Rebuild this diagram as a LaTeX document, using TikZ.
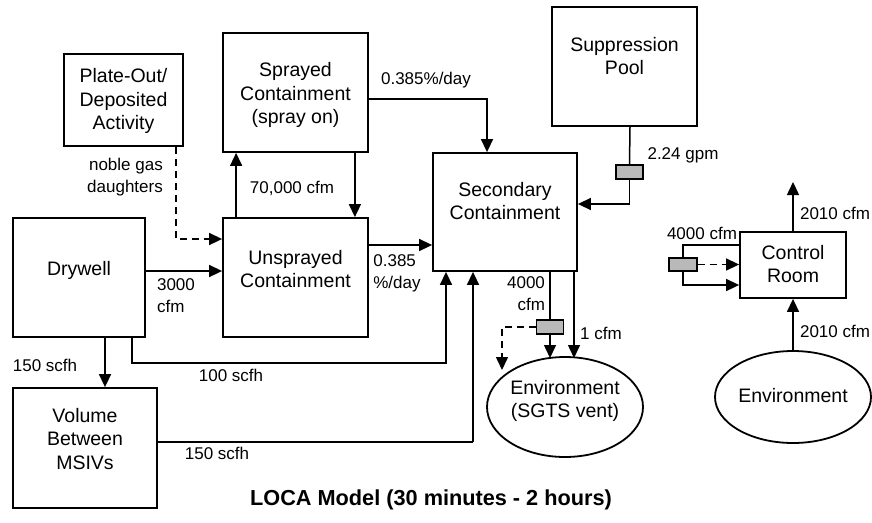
\documentclass[tikz,border=0pt]{standalone}
\usepackage{fontspec}
\setmainfont{Liberation Sans}
\usetikzlibrary{arrows.meta,shapes.geometric}
\begin{document}
\begin{tikzpicture}[x=1pt,y=-1pt,
  box/.style={draw,line width=1.8pt,inner sep=0pt},
  oval/.style={draw,ellipse,line width=1.8pt,inner sep=0pt},
  txt/.style={font=\fontsize{19.5}{23.5}\selectfont,align=center,inner sep=0pt},
  lab/.style={font=\fontsize{17}{22}\selectfont,inner sep=0pt},
  flow/.style={line width=1.5pt,-{Triangle[length=13pt,width=12pt]}},
  plain/.style={line width=1.5pt},
  dsh/.style={dash pattern=on 7pt off 5pt},
  valve/.style={draw,line width=1.4pt,fill=gray!55,minimum width=27pt,minimum height=14pt,inner sep=0pt}]
\useasboundingbox (0,0) rectangle (872,522);
% boxes
\node[box,minimum width=119pt,minimum height=92pt] (plate) at (123.5,100) {};
\node[txt] (plate-t) at (123.5,101) {Plate-Out/\\Deposited\\Activity};
\node[box,minimum width=145pt,minimum height=119pt] (spr) at (295.5,92.5) {};
\node[txt] (spr-t) at (295.5,95) {Sprayed\\Containment\\(spray on)};
\node[box,minimum width=145pt,minimum height=119pt] (unspr) at (295.5,277.5) {};
\node[txt] (unspr-t) at (295.5,269) {Unsprayed\\Containment};
\node[box,minimum width=132pt,minimum height=119pt] (dry) at (79,277.5) {};
\node[txt] (dry-t) at (79,270) {Drywell};
\node[box,minimum width=144pt,minimum height=118pt] (sec) at (505,212) {};
\node[txt] (sec-t) at (505,201) {Secondary\\Containment};
\node[box,minimum width=145pt,minimum height=119pt] (pool) at (624.5,66.5) {};
\node[txt] (pool-t) at (624.5,56) {Suppression\\Pool};
\node[box,minimum width=144pt,minimum height=120pt] (vol) at (85,448) {};
\node[txt] (vol-t) at (85,439) {Volume\\Between\\MSIVs};
\node[box,minimum width=106pt,minimum height=66pt] (ctrl) at (793,265) {};
\node[txt] (ctrl-t) at (793,264) {Control\\Room};
\node[oval,minimum width=156pt,minimum height=100pt] (sgts) at (565,407) {};
\node[txt] (sgts-t) at (565,401) {Environment\\(SGTS vent)};
\node[oval,minimum width=156pt,minimum height=92pt] (env) at (793,397) {};
\node[txt] (env-t) at (793,396) {Environment};
% valves
\node[valve] (v1) at (629.5,172) {};
\node[valve] (v2) at (550,327) {};
\node[valve,minimum width=28pt,minimum height=13pt] (v3) at (683,264.5) {};
% coordinates
\coordinate (c100) at (446,363);
\coordinate (c150) at (473,442);
\coordinate (dend) at (502,370);
\coordinate (e1) at (574,358);
\coordinate (e2) at (550,358);
\coordinate (up) at (793,182);
\coordinate (u245) at (368,245);
% connectors
\draw[flow,dsh] ([xshift=-8pt]plate.south east) |- ([yshift=38.5pt]unspr.west);
\node[lab,align=right] (noble) at (125,177.5) {noble gas\\daughters};
\draw[flow] ([xshift=14pt]unspr.north west) -- ([xshift=14pt]spr.south west);
\draw[flow] ([xshift=-14pt]spr.south east) -- ([xshift=-14pt]unspr.north east);
\node[lab] (l70) at (292,188) {70,000 cfm};
\draw[flow] ([yshift=-6.5pt]spr.east) -| ([xshift=-18pt]sec.north);
\node[lab] (l385a) at (426,80) {0.385\%/day};
\draw[flow] ([yshift=6.5pt]dry.east) -- ([yshift=6.5pt]unspr.west);
\node[lab,align=left] (l3000) at (176,296) {3000\\cfm};
\draw[flow] (u245) -- (sec.west |- u245);
\node[lab,align=left] (l385b) at (397,273) {0.385\\\%/day};
\draw[plain] ([xshift=5.5pt]pool.south) -- (v1.north);
\draw[flow] (v1.south) |- ([yshift=8pt]sec.east);
\node[lab] (lgpm) at (683,155) {2.24 gpm};
\draw[flow] ([xshift=53pt]dry.south) |- (c100) -- (sec.south -| c100);
\node[lab] (l100) at (231,375) {100 scfh};
\draw[flow] ([xshift=26pt]dry.south) -- ([xshift=20pt]vol.north);
\node[lab] (l150a) at (45,365) {150 scfh};
\draw[plain] ([yshift=6pt]vol.east) -- (c150);
\draw[flow] (c150) -- (sec.south -| c150);
\node[lab] (l150b) at (217,453) {150 scfh};
\draw[plain] (sec.south -| v2) -- (v2.north);
\draw[flow] (v2.south) -- (e2);
\draw[flow,dsh] (v2.west) -| (dend);
\node[lab,align=right] (l4000a) at (526,294) {4000\\cfm};
\draw[flow] (sec.south -| e1) -- (e1);
\node[lab] (l1) at (601,333) {1 cfm};
\draw[flow] (ctrl.north) -- (up);
\node[lab] (l2010a) at (835,213) {2010 cfm};
\draw[flow] (env.north) -- (ctrl.south);
\node[lab] (l2010b) at (835,331) {2010 cfm};
\draw[plain] ([yshift=20pt]ctrl.west) -| (v3.north);
\draw[flow] (v3.south) |- ([yshift=-20pt]ctrl.west);
\draw[flow,dsh] (v3.east) -- (ctrl.west |- v3.east);
\node[lab] (l4000b) at (702,233) {4000 cfm};
% title
\node[inner sep=0pt,font=\bfseries\fontsize{21.7}{26}\selectfont] (title) at (431,500) {LOCA Model (30 minutes - 2 hours)};
\end{tikzpicture}
\end{document}
